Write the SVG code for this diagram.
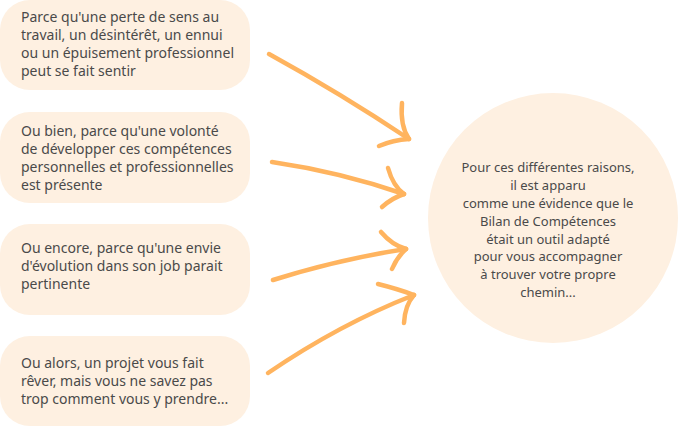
<svg xmlns="http://www.w3.org/2000/svg" width="679" height="427" viewBox="0 0 679 427">
<style>
.box{fill:#FEF0E1;}
.t{font-family:"Noto Sans","Open Sans",sans-serif;font-size:13px;fill:#4a4a4a;}
.b{font-size:14px;}
.c{text-anchor:middle;}
.a{fill:none;stroke:#FFB45F;stroke-width:4.5;stroke-linecap:round;stroke-linejoin:round;}
</style>
<rect width="679" height="427" fill="#ffffff"/>
<g id="node1">
<rect class="box" x="0" y="0" width="250" height="90" rx="30"/>
<text class="t b" x="21" y="22">Parce qu'une perte de sens au</text>
<text class="t b" x="21" y="40">travail, un désintérêt, un ennui</text>
<text class="t b" x="21" y="58">ou un épuisement professionnel</text>
<text class="t b" x="21" y="76">peut se fait sentir</text>
</g>
<g id="node2">
<rect class="box" x="0" y="112" width="250" height="91" rx="30"/>
<text class="t b" x="21" y="136">Ou bien, parce qu'une volonté</text>
<text class="t b" x="21" y="154">de développer ces compétences</text>
<text class="t b" x="21" y="172">personnelles et professionnelles</text>
<text class="t b" x="21" y="190">est présente</text>
</g>
<g id="node3">
<rect class="box" x="0" y="224" width="250" height="91" rx="30"/>
<text class="t b" x="21" y="253">Ou encore, parce qu'une envie</text>
<text class="t b" x="21" y="271">d'évolution dans son job parait</text>
<text class="t b" x="21" y="289">pertinente</text>
</g>
<g id="node4">
<rect class="box" x="0" y="336" width="250" height="90" rx="30"/>
<text class="t b" x="21" y="368">Ou alors, un projet vous fait</text>
<text class="t b" x="21" y="386">rêver, mais vous ne savez pas</text>
<text class="t b" x="21" y="404">trop comment vous y prendre...</text>
</g>
<g id="center">
<circle class="box" cx="553" cy="218" r="125"/>
<text class="t c" x="548" y="172">Pour ces différentes raisons,</text>
<text class="t c" x="548" y="190">il est apparu</text>
<text class="t c" x="548" y="208">comme une évidence que le</text>
<text class="t c" x="548" y="226">Bilan de Compétences</text>
<text class="t c" x="548" y="244">était un outil adapté</text>
<text class="t c" x="548" y="261">pour vous accompagner</text>
<text class="t c" x="548" y="279">à trouver votre propre</text>
<text class="t c" x="548" y="297">chemin...</text>
</g>
<g id="connectors">
<path class="a" d="M269,54 Q340,93 409,139"/>
<path class="a" d="M402,103 Q400,126 409,139"/>
<path class="a" d="M379,146 Q393,140 409,139"/>
<path class="a" d="M272,162 Q340,172 404,194"/>
<path class="a" d="M388,168 Q393,186 404,194"/>
<path class="a" d="M382,207 Q392,198 404,194"/>
<path class="a" d="M273,280 Q340,259 406,249"/>
<path class="a" d="M381,232 Q392,245 406,249"/>
<path class="a" d="M392,269 Q397,257 406,249"/>
<path class="a" d="M268,373 Q340,324 414,295"/>
<path class="a" d="M378,284 Q398,289 414,295"/>
<path class="a" d="M404,323 Q405,305 414,295"/>
</g>
</svg>
